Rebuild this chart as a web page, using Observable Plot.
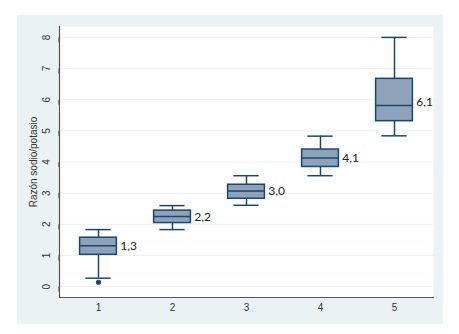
<!DOCTYPE html>
<html>
<head>
<meta charset="utf-8">
<script src="https://cdn.jsdelivr.net/npm/d3@7"></script>
<script src="https://cdn.jsdelivr.net/npm/@observablehq/plot@0.6"></script>
<style>
  html, body { margin: 0; padding: 0; background: white; }
  #wrap { position: relative; width: 459px; height: 334px; background: white; }
  #bg { position: absolute; left: 17px; top: 15px; width: 426px; height: 309px; background: #eaf2f3; }
  #chart { position: absolute; left: 0; top: 0; }
</style>
</head>
<body>
<div id="wrap"><div id="bg"></div><div id="chart"></div></div>
<script>
const groups = ["1", "2", "3", "4", "5"];
const whiskerLow = [0.27, 1.83, 2.61, 3.56, 4.84];
const q1 = [1.02, 2.04, 2.82, 3.84, 5.31];
const median = [1.31, 2.25, 3.07, 4.13, 5.81];
const q3 = [1.57, 2.44, 3.27, 4.40, 6.67];
const whiskerHigh = [1.83, 2.60, 3.56, 4.83, 8.00];
const outlierGroups = ["1"];
const outlierValues = [0.14];
const labels = ["1,3", "2,2", "3,0", "4,1", "6,1"];
const labelY = [1.30, 2.22, 3.05, 4.13, 5.93];
const yTicks = [0, 1, 2, 3, 4, 5, 6, 7, 8];
const yTitle = "Razón sodio/potasio";

const boxes = groups.map((g, i) => ({
  g, lo: whiskerLow[i], q1: q1[i], med: median[i], q3: q3[i], hi: whiskerHigh[i],
  label: labels[i], ly: labelY[i]
}));
const outliers = outlierGroups.map((g, i) => ({g, v: outlierValues[i]}));

const navy = "#1a476f";
const fillC = "#8ea2ba";
const boxInset = 18.6;
const capInset = 24.4;

const chart = Plot.plot({
  width: 459,
  height: 334,
  marginLeft: 59,
  marginRight: 26,
  marginTop: 26,
  marginBottom: 37,
  style: {background: "transparent", fontFamily: "'Liberation Sans', Arial, sans-serif"},
  x: {type: "band", domain: groups, padding: 0},
  y: {domain: [-0.35, 8.35]},
  marks: [
    Plot.frame({fill: "white", stroke: null}),
    Plot.gridY(yTicks, {stroke: "#eaf2f3", strokeOpacity: 1, strokeWidth: 1}),
    Plot.ruleX(boxes, {x: "g", y1: "lo", y2: "hi", stroke: navy, strokeWidth: 1.5}),
    Plot.tickY(boxes, {x: "g", y: "lo", stroke: navy, strokeWidth: 1.5, insetLeft: capInset, insetRight: capInset}),
    Plot.tickY(boxes, {x: "g", y: "hi", stroke: navy, strokeWidth: 1.5, insetLeft: capInset, insetRight: capInset}),
    Plot.barY(boxes, {x: "g", y1: "q1", y2: "q3", fill: fillC, stroke: navy, strokeWidth: 1.5,
      insetLeft: boxInset, insetRight: boxInset}),
    Plot.tickY(boxes, {x: "g", y: "med", stroke: navy, strokeWidth: 1.5, insetLeft: boxInset, insetRight: boxInset}),
    Plot.dot(outliers, {x: "g", y: "v", r: 2.6, fill: navy, stroke: null}),
    Plot.text(boxes, {x: "g", y: "ly", text: "label", textAnchor: "start", dx: 37.4 - boxInset + 3,
      fontSize: 12, fill: "#222", fontFamily: "Lato, 'Open Sans', sans-serif"}),
    Plot.axisY(yTicks, {tickSize: 5, tickPadding: 8, rotate: -90, textAnchor: "middle",
      fontSize: 10, color: "#333", label: null}),
    Plot.axisX({tickSize: 0, tickPadding: 6, fontSize: 10, color: "#333", label: null}),
    Plot.text([yTitle], {frameAnchor: "left", dx: -26, rotate: -90, text: d => d,
      fontSize: 10, fill: "#333", textAnchor: "middle"}),
    Plot.frame({anchor: "left", stroke: "#555", strokeWidth: 1.2}),
    Plot.frame({anchor: "bottom", stroke: "#555", strokeWidth: 1.2})
  ]
});
document.getElementById("chart").appendChild(chart);
</script>
</body>
</html>
